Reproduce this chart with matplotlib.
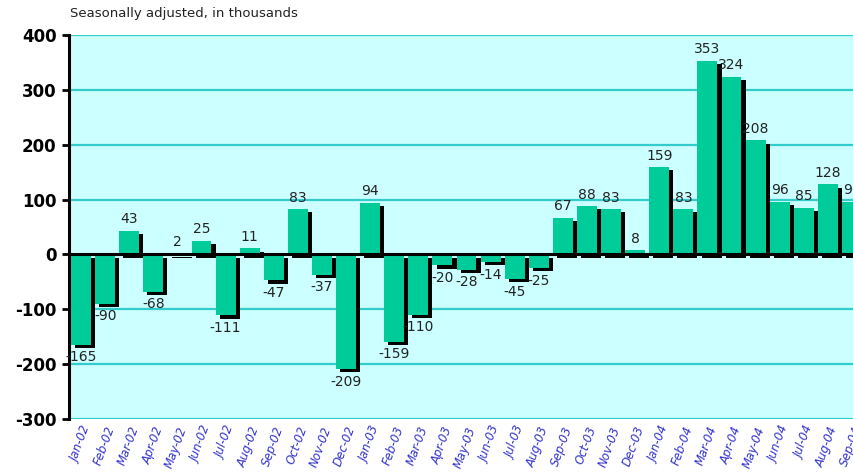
import matplotlib
matplotlib.use("Agg")
import matplotlib.pyplot as plt
import numpy as np

MONTHS = ["Jan-02", "Feb-02", "Mar-02", "Apr-02", "May-02", "Jun-02", "Jul-02", "Aug-02",
          "Sep-02", "Oct-02", "Nov-02", "Dec-02", "Jan-03", "Feb-03", "Mar-03", "Apr-03",
          "May-03", "Jun-03", "Jul-03", "Aug-03", "Sep-03", "Oct-03", "Nov-03", "Dec-03",
          "Jan-04", "Feb-04", "Mar-04", "Apr-04", "May-04", "Jun-04", "Jul-04", "Aug-04",
          "Sep-04"]
JOBS = [-165, -90, 43, -68, 2, 25, -111, 11, -47, 83, -37, -209, 94, -159, -110, -20,
        -28, -14, -45, -25, 67, 88, 83, 8, 159, 83, 353, 324, 208, 96, 85, 128, 96]
Y_TICKS = [-300, -200, -100, 0, 100, 200, 300, 400]

BAR_COL = "#00CC99"
BG_COL = "#CCFFFF"
GRID_COL = "#33CCCC"

fig = plt.figure(figsize=(8.54, 4.74), dpi=100)
# axes run past the right edge of the figure, as in the original
ax = fig.add_axes([69 / 854, 55 / 474, 795 / 854, 384 / 474])
ax.set_facecolor(BG_COL)

x = np.arange(len(JOBS))
w = 0.83
# shadow bars (offset right / down)
ax.bar(x + 0.17, JOBS, width=w, bottom=-6, color="black", zorder=2)
ax.bar(x, JOBS, width=w, color=BAR_COL, zorder=3)

for xi, v in zip(x, JOBS):
    if v >= 0:
        ax.text(xi, v + 8, str(v), ha="center", va="bottom", fontsize=10, color="#222222", zorder=5)
    else:
        ax.text(xi, v - 10, str(v), ha="center", va="top", fontsize=10, color="#222222", zorder=5)

ax.axhline(0, color="black", lw=2.2, zorder=4)
for t in Y_TICKS:
    if t != 0:
        ax.axhline(t, color=GRID_COL, lw=1.6, zorder=1)

ax.set_xlim(-0.5, len(JOBS) - 0.5)
ax.set_ylim(-300, 400)
ax.set_yticks(Y_TICKS)
ax.set_yticklabels([str(t) for t in Y_TICKS], fontsize=12, fontweight="bold")
ax.set_xticks(x)
ax.set_xticklabels(MONTHS, rotation=70, ha="right", rotation_mode="anchor",
                   fontsize=8.5, style="italic", color="#3333CC")
ax.tick_params(axis="x", length=0, pad=4)
ax.tick_params(axis="y", length=5, width=2, pad=4)

for s in ["top", "right", "bottom"]:
    ax.spines[s].set_visible(False)
ax.spines["left"].set_linewidth(2.2)

fig.text(70 / 854, 1 - 14 / 474, "Seasonally adjusted, in thousands", fontsize=9.5,
         color="#222222", va="center", ha="left")

fig.savefig("out.png", dpi=100)
